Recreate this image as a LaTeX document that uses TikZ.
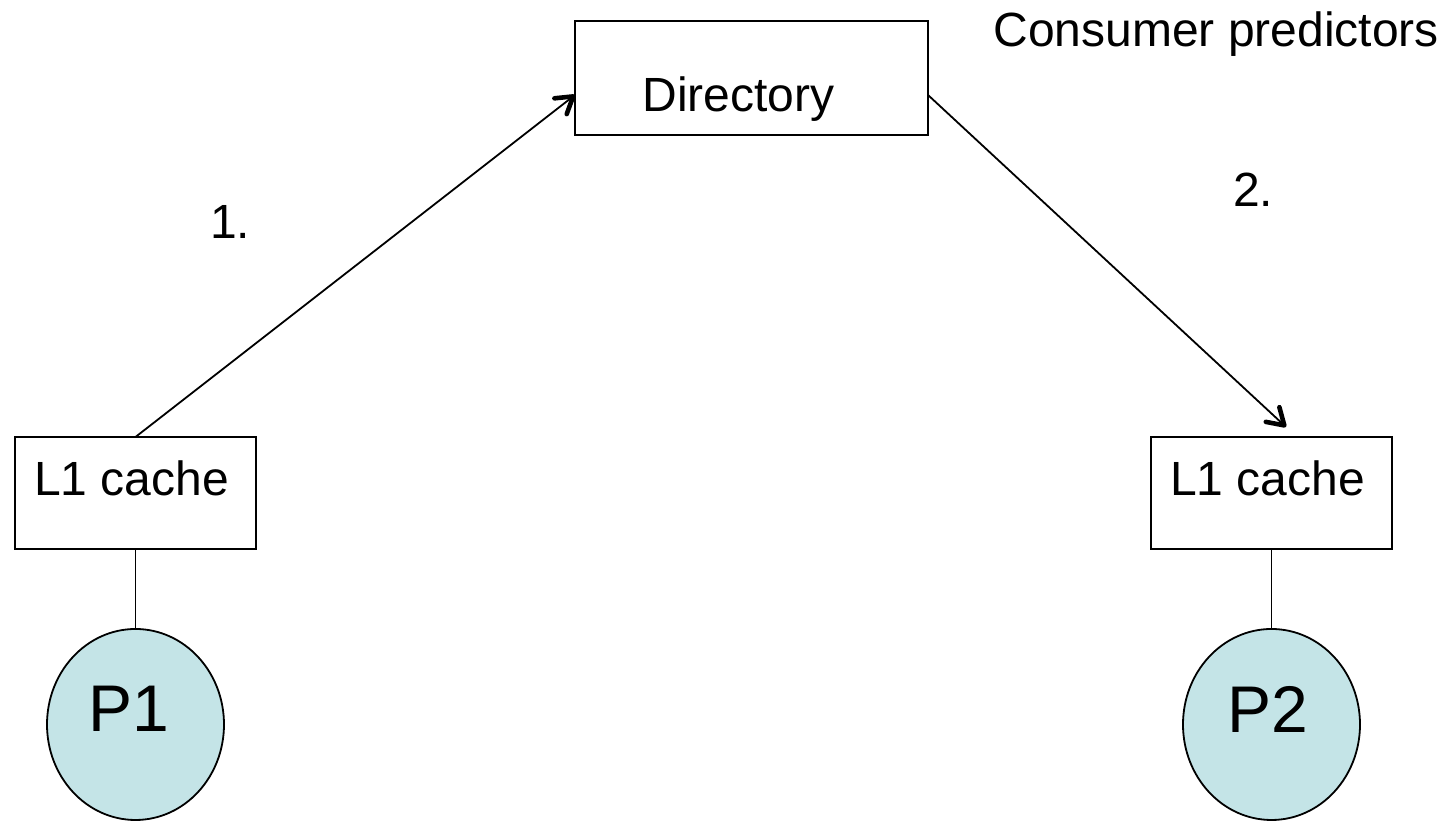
\documentclass[tikz,border=0pt]{standalone}
\usepackage{fontspec}
\setmainfont{Liberation Sans}
\usetikzlibrary{positioning,arrows.meta,shapes.geometric}
\definecolor{procfill}{RGB}{196,228,231}

\begin{document}
\begin{tikzpicture}[
    line width = 0.9pt,
    every node/.style = {font=\fontsize{24}{29}\selectfont, text=black,
      inner sep=0pt, outer sep=0pt},
    every edge/.style = {draw, line width=0.9pt},
    flow/.style = {-{Straight Barb[length=8pt, width=10pt, line width=1.4pt 1, round]}},
    dirbox/.style = {draw, rectangle, minimum width=176.5pt, minimum height=57pt},
    cachebox/.style = {draw, rectangle, minimum width=120.5pt, minimum height=56pt},
    proc/.style = {draw, ellipse, fill=procfill,
      minimum width=88.5pt, minimum height=95.5pt},
    proctext/.style = {font=\fontsize{33}{40}\selectfont}]
  \useasboundingbox (0,0) rectangle (723.5pt,411pt);

  \node (dir) [dirbox,
    label={[name=dirtext, xshift=-6.5pt, yshift=-10.5pt]center:Directory}]
    at (375.75pt,372pt) {};
  \node (l1a) [cachebox,
    label={[name=l1atext, xshift=-2pt, yshift=7.5pt]center:L1 cache}]
    at (67.75pt,164.5pt) {};
  \node (l1b) [cachebox, right = 447.5pt of l1a,
    label={[name=l1btext, xshift=-2pt, yshift=7.5pt]center:L1 cache}] {};
  \node (p1) [proc, below = 40pt of l1a,
    label={[name=p1text, proctext, xshift=-3.5pt, yshift=7.75pt]center:P1}] {};
  \node (p2) [proc, below = 40pt of l1b,
    label={[name=p2text, proctext, xshift=-2pt, yshift=7.75pt]center:P2}] {};

  \node (consumer) [anchor=base west] at (496.75pt,387.5pt) {Consumer predictors};
  \node (one) [anchor=base west] at (105pt,291.5pt) {1.};
  \node (two) [anchor=base west] at (616.5pt,307.5pt) {2.};

  \draw[flow] (l1a.north) -- ([yshift=-8.5pt]dir.west);
  \draw[flow] ([yshift=-8.5pt]dir.east) -- ([xshift=7.25pt,yshift=5pt]l1b.north);
  \draw (l1a) edge (p1);
  \draw (l1b) edge (p2);
\end{tikzpicture}
\end{document}
